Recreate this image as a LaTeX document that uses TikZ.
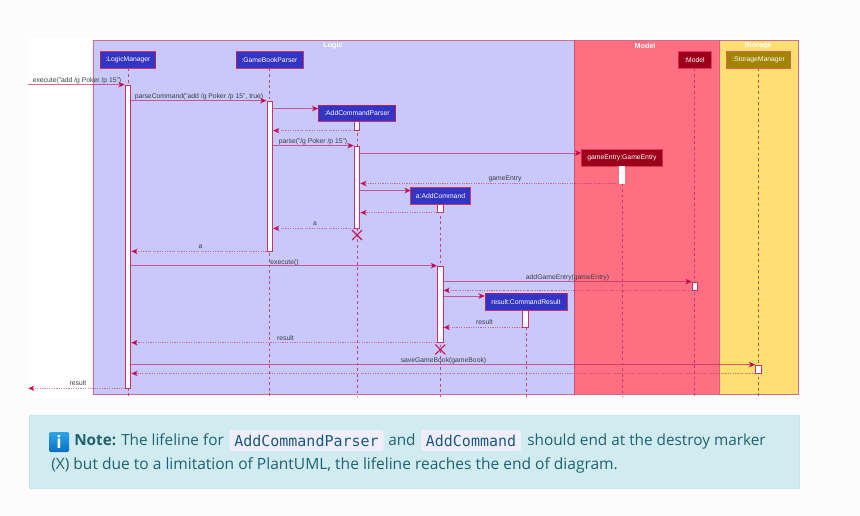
\documentclass[tikz,border=0pt]{standalone}
\usepackage{fontspec}
\setmainfont{Open Sans}
\setsansfont{Liberation Sans}
\setmonofont{DejaVu Sans Mono}
\usetikzlibrary{arrows.meta,shapes.misc}

\definecolor{iconTop}{RGB}{44,165,235}
\definecolor{iconBottom}{RGB}{10,110,195}
\definecolor{tipColor}{RGB}{194,0,78}

\tikzset{
  framebox/.style={draw={rgb, 255:red, 200; green, 70; blue, 115 }, draw opacity=0.8, line width=0.6pt},
  frametitle/.style={font=\sffamily\bfseries\fontsize{5.4}{6}\selectfont, text=white, inner sep=0.75pt},
  actor/.style={rectangle, draw={rgb, 255:red, 196; green, 30; blue, 90 }, draw opacity=0.85, line width=0.6pt, minimum height=12.4pt, inner sep=0pt, font=\sffamily\fontsize{5.1}{6}\selectfont, text=white},
  logicactor/.style={actor, fill={rgb, 255:red, 51; green, 51; blue, 196 }},
  modelactor/.style={actor, fill={rgb, 255:red, 157; green, 0; blue, 26 }, draw={rgb, 255:red, 220; green, 50; blue, 80 }},
  storageactor/.style={actor, fill={rgb, 255:red, 163; green, 131; blue, 0 }, draw={rgb, 255:red, 215; green, 80; blue, 70 }},
  lifeline/.style={draw={rgb, 255:red, 190; green, 40; blue, 95 }, draw opacity=0.8, line width=0.55pt, dash pattern=on 2.1pt off 2.1pt},
  actbar/.style={rectangle, draw={rgb, 255:red, 200; green, 50; blue, 105 }, fill=white, line width=0.6pt, minimum width=4.1pt, inner sep=0pt},
  msg/.style={draw={rgb, 255:red, 196; green, 40; blue, 100 }, draw opacity=0.7, line width=0.6pt, -{Stealth[length=5pt,width=4.4pt,inset=1.4pt,color=tipColor]}},
  reply/.style={msg, draw opacity=0.6, dash pattern=on 0.9pt off 0.9pt},
  msglabel/.style={font=\sffamily\fontsize{5.1}{6}\selectfont, text={rgb, 255:red, 60; green, 60; blue, 70 }, inner sep=0pt, anchor=base},
  destroy/.style={cross out, draw={rgb, 255:red, 196; green, 20; blue, 80 }, line width=0.8pt, minimum size=6.6pt, inner sep=0pt},
  notetext/.style={font=\fontsize{11.5}{14}\selectfont, text={rgb, 255:red, 30; green, 98; blue, 110 }, inner sep=0pt, anchor=base west},
  codechip/.style={rectangle, rounded corners=1.5pt, fill={rgb, 255:red, 240; green, 238; blue, 252 }, minimum height=15.5pt, inner sep=0pt, font=\ttfamily\fontsize{11.25}{14}\selectfont, text={rgb, 255:red, 24; green, 90; blue, 130 }},
}

\begin{document}
\begin{tikzpicture}[x=0.75pt,y=0.75pt,yscale=-1,xscale=1]
  \useasboundingbox (0,0) rectangle (860,515);
  \fill [fill={rgb, 255:red, 252; green, 252; blue, 253 }] (0,0) rectangle (860,515);
  \fill [white] (28,38) rectangle (800,398);

  %Shape: Rectangle frames
  \draw [framebox, fill={rgb, 255:red, 200; green, 200; blue, 250 }] (93.5,40.5) rectangle (574,394);
  \draw [framebox, fill={rgb, 255:red, 255; green, 111; blue, 130 }] (574,40.5) rectangle (719,394);
  \draw [framebox, fill={rgb, 255:red, 255; green, 223; blue, 113 }] (719,40.5) rectangle (798,394);

  % Text Node
  \node (titleLogic) [frametitle] at (333,46) {Logic};
  \node (titleModel) [frametitle] at (645,46) {Model};
  \node (titleStorage) [frametitle] at (758,46) {Storage};

  %Participants
  \node (boxManager) [logicactor, minimum width=41.6pt] at (128,60) {:LogicManager};
  \node (boxParser) [logicactor, minimum width=50.2pt] at (269.5,60) {:GameBookParser};
  \node (boxAddParser) [logicactor, minimum width=58.1pt] at (357,113.2) {:AddCommandParser};
  \node (boxAddCommand) [logicactor, minimum width=44.6pt] at (440.5,196) {a:AddCommand};
  \node (boxEntry) [modelactor, minimum width=61.1pt] at (622,158) {gameEntry:GameEntry};
  \node (boxResult) [logicactor, minimum width=61.5pt] at (526,301.7) {result:CommandResult};
  \node (boxModel) [modelactor, minimum width=24.8pt] at (694.5,60) {:Model};
  \node (boxStorage) [storageactor, minimum width=47.6pt] at (758.5,60) {:StorageManager};

  \coordinate (diagramEnd) at (0,397);
  \coordinate (leftEnd) at (28,0);

  %Lifelines
  \foreach \boxname in {boxManager,boxParser,boxAddParser,boxAddCommand,boxEntry,boxResult,boxModel,boxStorage}
    \draw [lifeline] (\boxname.south) -- (\boxname.south |- diagramEnd);

  %Activation bars
  \node (actManager) [actbar, minimum height=227.2pt] at (128,236.5) {};
  \node (actParser) [actbar, minimum height=112.5pt] at (269.8,176) {};
  \node (actAddParserA) [actbar, minimum height=6.3pt] at (357,126) {};
  \node (actAddParserB) [actbar, minimum height=61.5pt] at (357,187) {};
  \node (actAddCommandA) [actbar, minimum height=6pt] at (440.3,208.2) {};
  \node (actAddCommandB) [actbar, minimum height=57.2pt] at (440.3,304.2) {};
  \node (actEntry) [actbar, minimum height=12.4pt, draw=white] at (622,174.8) {};
  \node (actResult) [actbar, minimum height=12.7pt] at (525.6,318.5) {};
  \node (actModel) [actbar, minimum height=6pt] at (695,286) {};
  \node (actStorage) [actbar, minimum height=6pt] at (758.5,369) {};

  %Destroy markers
  \node (destroyAddParser) [destroy] at (357,235) {};
  \node (destroyAddCommand) [destroy] at (440.3,349.5) {};

  %Messages
  \draw [msg] (leftEnd |- actManager.north) -- (actManager.north west);
  \draw [msg] (actManager.east |- actParser.north) -- (actParser.north west);
  \coordinate (createAddParser) at (318.5,108.5);
  \draw [msg] (actParser.east |- createAddParser) -- (createAddParser);
  \draw [reply] (actAddParserA.south west) -- (actParser.east |- actAddParserA.south);
  \draw [msg] (actParser.east |- actAddParserB.north) -- (actAddParserB.north west);
  \coordinate (createEntry) at (581.5,153);
  \draw [msg] (actAddParserB.east |- createEntry) -- (createEntry);
  \draw [reply] (actEntry.south west) -- (actAddParserB.east |- actEntry.south);
  \coordinate (createAddCommand) at (411,190.5);
  \draw [msg] (actAddParserB.east |- createAddCommand) -- (createAddCommand);
  \draw [reply] (actAddCommandA.south west) -- (actAddParserB.east |- actAddCommandA.south);
  \draw [reply] (actAddParserB.south west) -- (actParser.east |- actAddParserB.south);
  \draw [reply] (actParser.south west) -- (actManager.east |- actParser.south);
  \draw [msg] (actManager.east |- actAddCommandB.north) -- (actAddCommandB.north west);
  \draw [msg] (actAddCommandB.east |- actModel.north) -- (actModel.north west);
  \draw [reply] (actModel.south west) -- (actAddCommandB.east |- actModel.south);
  \coordinate (createResult) at (485,296);
  \draw [msg] (actAddCommandB.east |- createResult) -- (createResult);
  \draw [reply] (actResult.south west) -- (actAddCommandB.east |- actResult.south);
  \draw [reply] (actAddCommandB.south west) -- (actManager.east |- actAddCommandB.south);
  \draw [msg] (actManager.east |- actStorage.north) -- (actStorage.north west);
  \draw [reply] (actStorage.south west) -- (actManager.east |- actStorage.south);
  \draw [reply] (actManager.south west) -- (leftEnd |- actManager.south);

  % Text Node
  \node (labelExecuteCmd) [msglabel] at (77,82.5) {execute("add /g Poker /p 15")};
  \node (labelParseCmd) [msglabel] at (199,98.5) {parseCommand("add /g Poker /p 15", true)};
  \node (labelParse) [msglabel] at (313,143.5) {parse("/g Poker /p 15")};
  \node (labelGameEntry) [msglabel] at (505,180.5) {gameEntry};
  \node (labelAParser) [msglabel] at (315,225.5) {a};
  \node (labelALogic) [msglabel] at (200.5,248.5) {a};
  \node (labelExecute) [msglabel] at (284.5,264) {execute()};
  \node (labelAddEntry) [msglabel] at (567.5,279.5) {addGameEntry(gameEntry)};
  \node (labelResultA) [msglabel] at (484.5,324.5) {result};
  \node (labelResultB) [msglabel] at (285.5,340) {result};
  \node (labelSave) [msglabel] at (443.5,362.5) {saveGameBook(gameBook)};
  \node (labelResultC) [msglabel] at (78,385.5) {result};

  %Note box
  \draw [draw={rgb, 255:red, 195; green, 230; blue, 236 }, fill={rgb, 255:red, 209; green, 236; blue, 241 }, line width=0.5pt] (29,415) rectangle (799,488.5);
  \node (noteIcon) [rectangle, rounded corners=1pt, top color=iconTop, bottom color=iconBottom, minimum size=15pt, inner sep=0pt, text=white, font=\bfseries\fontsize{13}{14}\selectfont] at (59,442) {i};
  \node (noteBold) [notetext, font=\bfseries\fontsize{11.5}{14}\selectfont] at (74,445.5) {Note:};
  \node (noteIntro) [notetext] at (121,445.5) {The lifeline for};
  \node (chipAddParser) [codechip, minimum width=115.5pt] at (306.5,440.5) {AddCommandParser};
  \node (noteAnd) [notetext] at (388,445.5) {and};
  \node (chipAddCommand) [codechip, minimum width=75pt] at (471,440.5) {AddCommand};
  \node (noteEnd) [notetext] at (527,445.5) {should end at the destroy marker};
  \node (noteSecond) [notetext, font=\fontsize{11.66}{14}\selectfont] at (51,469.5) {(X) but due to a limitation of PlantUML, the lifeline reaches the end of diagram.};
\end{tikzpicture}
\end{document}
